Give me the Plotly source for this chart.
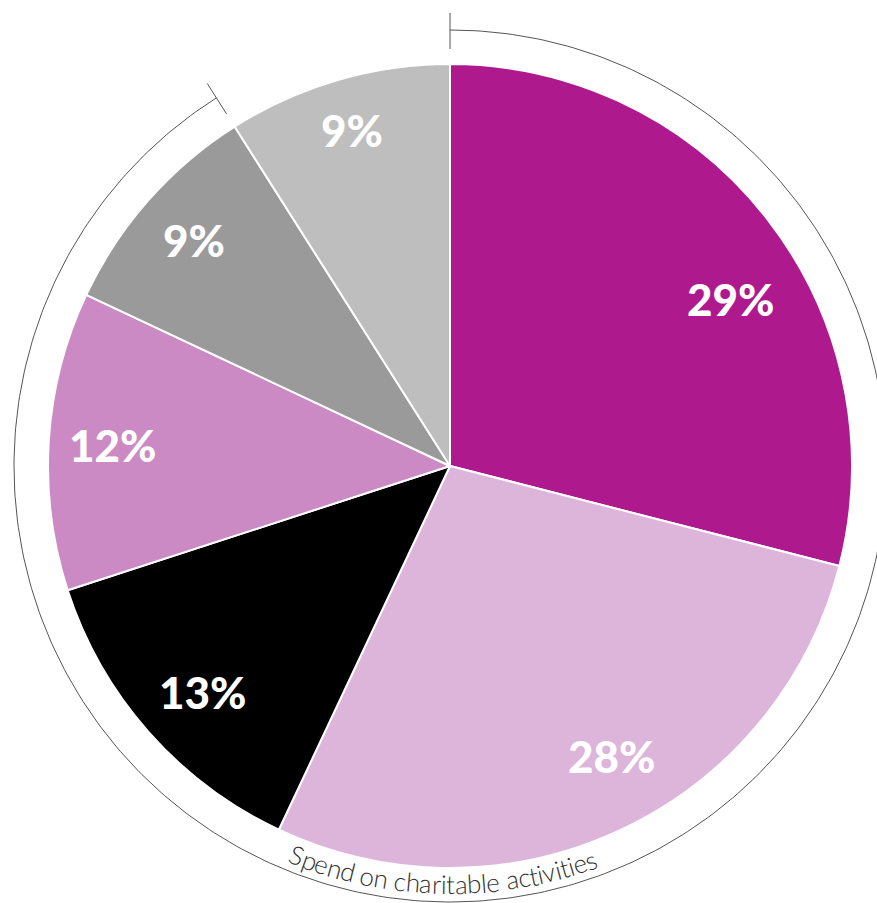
import numpy as np
import plotly.graph_objects as go

# ---- data -------------------------------------------------------------
categories = [
    "Charitable activity A",
    "Charitable activity B",
    "Charitable activity C",
    "Charitable activity D",
    "Charitable activity E",
    "Other spend",
]
values = [29, 28, 13, 12, 9, 9]
labels = ["29%", "28%", "13%", "12%", "9%", "9%"]
charitable_flags = [True, True, True, True, True, False]
bracket_caption = "Spend on charitable activities"

# ---- styling ----------------------------------------------------------
colors = ["#AE1A8E", "#DDB5DB", "#000000", "#CC8AC4", "#9A9A9A", "#BEBEBE"]
label_angle_nudge = [7, -4, -1, 0, 0, 0]     # degrees, clockwise
label_radius_nudge = [-8, -3, 0, 3, 6, 15]   # pixels, outward
W, H = 877, 903
CX, CY = 450, 466          # pie centre in pixels (y down)
R = 402                    # pie radius in pixels
R_LABEL = 335
R_ARC = 436
R_TEXT = 418
LABEL_FONT = dict(family="Lato", size=44, color="white", weight=900)
CAPTION_FONT = dict(family="Lato", size=26, color="#333333", weight=300)


def polar(theta_deg, r):
    """Clockwise-from-12-o'clock angle -> pixel coordinates."""
    t = np.radians(theta_deg)
    return CX + r * np.sin(t), CY - r * np.cos(t)


fig = go.Figure()

fig.add_trace(go.Pie(
    labels=categories,
    values=values,
    sort=False,
    direction="clockwise",
    rotation=0,
    marker=dict(colors=colors, line=dict(color="white", width=2)),
    textinfo="none",
    hoverinfo="label+percent",
    domain=dict(x=[(CX - R) / W, (CX + R) / W],
                y=[(H - CY - R) / H, (H - CY + R) / H]),
    showlegend=False,
))

# ---- value labels at each slice's mid-angle ----------------------------
total = float(sum(values))
cum = np.cumsum([0] + values)
annotations = []
for i, lab in enumerate(labels):
    mid = (cum[i] + cum[i + 1]) / 2 / total * 360 + label_angle_nudge[i]
    x, y = polar(mid, R_LABEL + label_radius_nudge[i])
    annotations.append(dict(x=x, y=y, xref="x", yref="y", text=lab,
                            showarrow=False, font=LABEL_FONT,
                            xanchor="center", yanchor="middle"))

# ---- bracket arc around the charitable slices --------------------------
arc_share = sum(v for v, f in zip(values, charitable_flags) if f) / total
arc_end = arc_share * 360
th = np.linspace(0, arc_end, 400)
ax_, ay_ = polar(th, R_ARC)
xs = list(ax_) + [None]
ys = list(ay_) + [None]
for t in (0, arc_end):
    x0, y0 = polar(t, R_ARC - 19)
    x1, y1 = polar(t, R_ARC + 17)
    xs += [x0, x1, None]
    ys += [y0, y1, None]
fig.add_trace(go.Scatter(x=xs, y=ys, mode="lines",
                         line=dict(color="#555555", width=1),
                         hoverinfo="skip", showlegend=False))

# ---- caption set along the bottom of the arc ---------------------------
char_w = {"S": 0.52, "p": 0.55, "e": 0.52, "n": 0.55, "d": 0.55, " ": 0.26,
          "o": 0.56, "c": 0.46, "h": 0.55, "a": 0.50, "r": 0.36, "i": 0.23,
          "t": 0.33, "b": 0.55, "l": 0.23, "v": 0.48, "s": 0.40}
widths = np.array([char_w.get(c, 0.5) for c in bracket_caption])
span_deg = 42.7
centre_deg = 181.0
scale = span_deg / widths.sum()
offsets = np.cumsum(widths) - widths / 2
for ch, off in zip(bracket_caption, offsets):
    if ch == " ":
        continue
    theta = centre_deg + span_deg / 2 - off * scale
    x, y = polar(theta, R_TEXT)
    annotations.append(dict(x=x, y=y, xref="x", yref="y", text=ch,
                            showarrow=False, font=CAPTION_FONT,
                            textangle=theta - 180,
                            xanchor="center", yanchor="middle"))

fig.update_layout(
    width=W, height=H,
    margin=dict(l=0, r=0, t=0, b=0),
    paper_bgcolor="white", plot_bgcolor="white",
    xaxis=dict(range=[0, W], visible=False, fixedrange=True),
    yaxis=dict(range=[H, 0], visible=False, fixedrange=True),
    annotations=annotations,
    showlegend=False,
)

fig.write_html("out.html")
